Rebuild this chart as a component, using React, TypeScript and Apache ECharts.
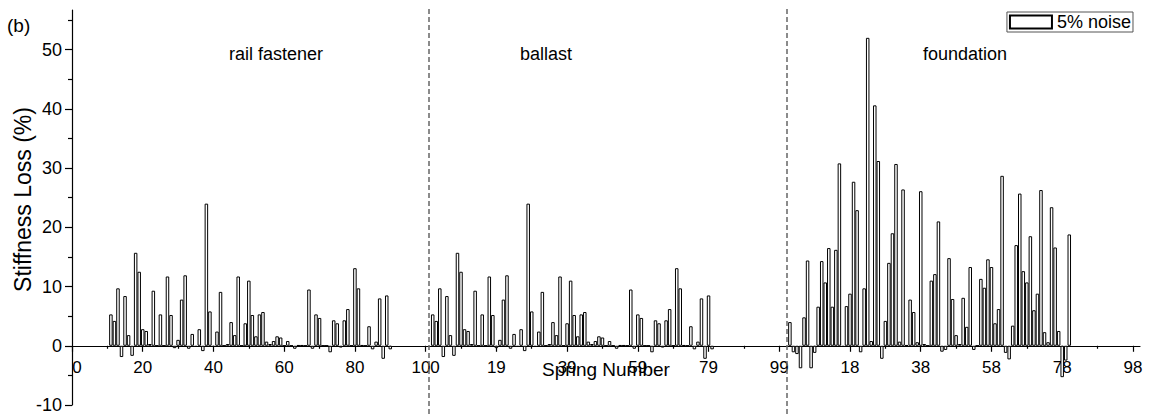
import React, { useEffect, useRef } from 'react';
import * as echarts from 'echarts';

// Spring positions on the shared x axis (section 1 starts at 0, section 2 at 101, section 3 at 202)
const sectionBoundaries = [101, 202];
const sectionNames = ['rail fastener', 'ballast', 'foundation'];

const RAIL_START = 11;
const railValues = [
  5.3, 4.2, 9.7, -1.9, 8.4, 1.8, -1.7, 15.7, 12.5, 2.8,
  2.5, 0.3, 9.3, 0, 5.3, 0, 11.7, 5.2, -0.4, 1.0,
  7.8, 11.9, -0.5, 2.0, -0.2, 2.8, -0.9, 24.0, 5.8, -0.2,
  2.4, 9.1, 0, 0.3, 4.0, 1.8, 11.7, 0, 3.8, 11.0,
  5.2, 1.6, 5.3, 5.7, 0.7, 0.3, 0.8, 1.6, 1.4, 0,
  0.8, 0, -0.5, 0.1, 0.1, 0, 9.5, -0.5, 5.3, 4.7,
  0, 0, -1.1, 4.3, 3.8, -0.3, 4.3, 6.2, 0, 13.1,
  9.7, 0.1, 0, 3.3, -0.6, 0.7, 8.0, -2.2, 8.5, -0.6,
];

const BALLAST_START = 102;
const ballastValues = [
  5.3, 4.2, 9.7, -1.9, 8.4, 1.8, -1.7, 15.7, 12.5, 2.8,
  2.5, 0.3, 9.3, 0, 5.3, 0, 11.7, 5.2, -0.4, 1.0,
  7.8, 11.9, -0.5, 2.0, -0.2, 2.8, -0.9, 24.0, 5.8, -0.2,
  2.4, 9.1, 0, 0.3, 4.0, 1.8, 11.7, 0, 3.8, 11.0,
  5.2, 1.6, 5.3, 5.7, 0.7, 0.3, 0.8, 1.6, 1.4, 0,
  0.8, 0, -0.5, 0.1, 0.1, 0, 9.5, -0.5, 5.3, 4.7,
  0, 0, -1.1, 4.3, 3.8, -0.3, 4.3, 6.2, 0, 13.1,
  9.7, 0.1, 0, 3.3, -0.6, 0.7, 8.0, -2.2, 8.5, -0.6,
];

const FOUNDATION_START = 203;
const foundationValues = [
  4.0, -1.1, -1.4, -3.8, 4.8, 14.4, -3.8, -1.2,
  6.6, 14.3, 10.7, 16.5, 6.6, 16.2, 30.8, -0.2, 6.7, 8.8,
  27.7, 22.9, -1.1, 9.7, 52.0, 0.8, 40.6, 31.2, -2.2, 4.2,
  14.0, 19.0, 30.7, 0.7, 26.4, 0.1, 7.8, 5.7, 0.6, 26.1,
  0.3, 0, 11.0, 12.1, 21.0, -1.0, -0.7, 14.8, 7.9, 1.8,
  0.3, 8.1, 3.2, 13.3, -0.7, 0, 11.3, 9.8, 14.6, 13.3,
  3.8, 6.2, 28.7, -1.2, -2.3, 3.4, 17.0, 25.7, 12.6, 10.7,
  18.5, 6.0, 8.8, 26.3, 2.3, 0.6, 23.4, 16.6, 2.5, -5.3,
  -2.5, 18.8,
];

const xTicks = [0, 20, 40, 60, 80, 100, 120, 140, 160, 180, 200, 220, 240, 260, 280, 300];
const xMinorTicks = [10, 30, 50, 70, 90, 110, 130, 150, 170, 190, 210, 230, 250, 270, 290];
const yTicks = [-10, 0, 10, 20, 30, 40, 50];
const yMinorTicks = [-5, 5, 15, 25, 35, 45, 55];

const X_MIN = 0;
const X_MAX = 302;
const Y_MIN = -10;
const Y_MAX = 56.7;

const W = 1150;
const H = 414;
const GRID = { left: 72, right: 10, top: 10, bottom: 9 };

const FONT = "'Liberation Sans', Arial, Helvetica, sans-serif";

const toPairs = (start: number, vals: number[]) => vals.map((v, i) => [start + i, v]);

const tickLabel = (v: number) => {
  let off = 0;
  sectionBoundaries.forEach((b) => {
    if (v >= b) off = b;
  });
  const s = String(Math.round(v - off));
  return v === 0 ? '{z|' + s + '}' : s;
};

export default function App() {
  const ref = useRef<HTMLDivElement>(null);

  useEffect(() => {
    if (!ref.current) return;
    const chart = echarts.init(ref.current, null, { renderer: 'svg' });
    const barData = [
      ...toPairs(RAIL_START, railValues),
      ...toPairs(BALLAST_START, ballastValues),
      ...toPairs(FOUNDATION_START, foundationValues),
    ];

    // put the x axis on y = 0 (axis offset measured from the grid bottom)
    const plotH = H - GRID.top - GRID.bottom;
    const zeroOffset = -((0 - Y_MIN) / (Y_MAX - Y_MIN)) * plotH;

    const option: any = {
      animation: false,
      textStyle: { fontFamily: FONT, color: '#000' },
      title: {
        text: '(b)',
        left: 7,
        top: 16,
        padding: 0,
        textStyle: { fontFamily: FONT, fontSize: 19, fontWeight: 'normal', color: '#000' },
      },
      legend: {
        data: ['5% noise'],
        right: 17,
        top: 12,
        icon: 'rect',
        itemWidth: 42,
        itemHeight: 13,
        itemGap: 0,
        padding: [1, 2, 1, 2],
        borderColor: '#555',
        borderWidth: 1,
        selectedMode: false,
        textStyle: { fontFamily: FONT, fontSize: 18, color: '#000' },
      },
      grid: [
        { ...GRID, outerBoundsMode: 'none', containLabel: false },
        { left: GRID.left, right: GRID.right, top: 8, bottom: 0, outerBoundsMode: 'none', containLabel: false },
      ],
      xAxis: [
        {
          type: 'value',
          gridIndex: 0,
          min: X_MIN,
          max: X_MAX,
          position: 'bottom',
          offset: zeroOffset,
          axisLine: { show: true, onZero: false, lineStyle: { color: '#000', width: 1.2 } },
          axisTick: { show: true, inside: false, length: 6, customValues: xTicks, lineStyle: { color: '#000', width: 1.2 } },
          axisLabel: {
            customValues: xTicks,
            formatter: tickLabel,
            margin: 13,
            fontSize: 17,
            color: '#000',
            fontFamily: FONT,
            rich: { z: { padding: [0, 0, 0, 10], fontSize: 17, fontFamily: FONT, color: '#000' } },
          },
          splitLine: { show: false },
          name: 'Spring Number',
          nameLocation: 'middle',
          nameGap: 14,
          nameMoveOverlap: false,
          nameTextStyle: { fontSize: 19, color: '#000', fontFamily: FONT },
        },
        {
          type: 'value',
          gridIndex: 0,
          min: X_MIN,
          max: X_MAX,
          position: 'bottom',
          offset: zeroOffset,
          axisLine: { show: false, onZero: false },
          axisTick: { show: true, inside: false, length: 3, customValues: xMinorTicks, lineStyle: { color: '#000', width: 1.2 } },
          axisLabel: { show: false },
          splitLine: { show: false },
        },
        { type: 'value', gridIndex: 1, min: X_MIN, max: X_MAX, show: false },
      ],
      yAxis: [
        {
          type: 'value',
          gridIndex: 0,
          min: Y_MIN,
          max: Y_MAX,
          position: 'left',
          axisLine: { show: true, onZero: false, lineStyle: { color: '#000', width: 1.2 } },
          axisTick: { show: true, inside: false, length: 7, customValues: yTicks, lineStyle: { color: '#000', width: 1.2 } },
          axisLabel: { customValues: yTicks, margin: 10, fontSize: 18, color: '#000', fontFamily: FONT },
          splitLine: { show: false },
          name: 'Stiffness Loss (%)',
          nameLocation: 'middle',
          nameGap: 38,
          nameMoveOverlap: false,
          nameRotate: 90,
          nameTextStyle: { fontSize: 23, color: '#000', fontFamily: FONT, padding: [0, 0, 0, 16] },
        },
        {
          type: 'value',
          gridIndex: 0,
          min: Y_MIN,
          max: Y_MAX,
          position: 'left',
          axisLine: { show: false, onZero: false },
          axisTick: { show: true, inside: false, length: 4, customValues: yMinorTicks, lineStyle: { color: '#000', width: 1.2 } },
          axisLabel: { show: false },
          splitLine: { show: false },
        },
        { type: 'value', gridIndex: 1, min: 0, max: 1, show: false },
      ],
      graphic: [
        { type: 'text', x: 276, y: 54, style: { text: sectionNames[0], font: '18px ' + FONT, fill: '#000', textAlign: 'center', textVerticalAlign: 'middle' } },
        { type: 'text', x: 546, y: 54, style: { text: sectionNames[1], font: '18px ' + FONT, fill: '#000', textAlign: 'center', textVerticalAlign: 'middle' } },
        { type: 'text', x: 965, y: 54, style: { text: sectionNames[2], font: '18px ' + FONT, fill: '#000', textAlign: 'center', textVerticalAlign: 'middle' } },
      ],
      series: [
        {
          type: 'bar',
          name: '5% noise',
          xAxisIndex: 0,
          yAxisIndex: 0,
          data: barData,
          barWidth: 3.5,
          itemStyle: { color: '#fff', borderColor: '#000', borderWidth: 1 },
          emphasis: { disabled: true },
        },
        {
          type: 'line',
          name: 'boundaries',
          xAxisIndex: 2,
          yAxisIndex: 2,
          data: [],
          silent: true,
          markLine: {
            silent: true,
            symbol: ['none', 'none'],
            label: { show: false },
            lineStyle: { type: [5, 3], color: '#666', width: 1.5 },
            data: sectionBoundaries.map((b) => ({ xAxis: b })),
          },
        },
      ],
    };

    chart.setOption(option);
    return () => chart.dispose();
  }, []);

  return (
    <div
      ref={ref}
      style={{ position: 'fixed', left: 0, top: 0, width: W, height: H, background: '#fff' }}
    />
  );
}
